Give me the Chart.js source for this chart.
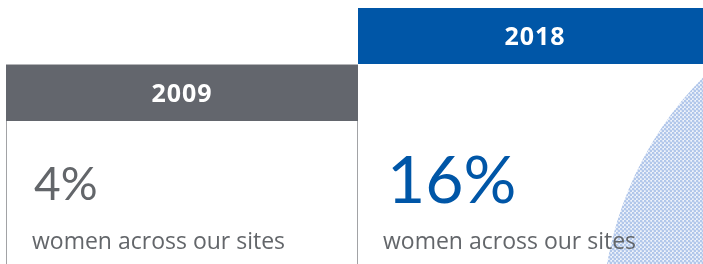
<!DOCTYPE html>
<html>
<head>
<meta charset="utf-8">
<script src="https://cdn.jsdelivr.net/npm/chart.js@4"></script>
<style>
  body { margin: 0; background: #fff; }
  canvas { display: block; }
</style>
</head>
<body>
<canvas id="myChart" width="703" height="264"></canvas>
<script>
const years = ['2009', '2018'];
const shares = [4, 16];
const caption = 'women across our sites';
const headColors = ['#63666d', '#0056a7'];
const valueColors = ['#63666a', '#0056a7'];

// halftone dots for the big circle on the right
let dotTile = document.createElement('canvas');
dotTile.width = 4;
dotTile.height = 4;
let tctx = dotTile.getContext('2d');
tctx.fillStyle = '#f0f4fb';
tctx.fillRect(0, 0, 4, 4);
tctx.fillStyle = '#b2c7ea';
for (const p of [[1, 1], [3, 3]]) {
  tctx.beginPath();
  tctx.arc(p[0], p[1], 1.4, 0, Math.PI * 2);
  tctx.fill();
}

const panels = {
  id: 'panels',
  beforeDatasetsDraw(chart) {
    const ctx = chart.ctx;
    const x = chart.scales.x;
    const H = chart.height;
    const half = (x.getPixelForValue(1) - x.getPixelForValue(0)) / 2;
    const split = Math.round(x.getPixelForValue(0) + half);
    const left = 6;

    ctx.save();
    // circle
    ctx.beginPath();
    ctx.rect(split, 64, chart.width - split, H - 64);
    ctx.clip();
    ctx.beginPath();
    ctx.arc(951, 323, 349, 0, Math.PI * 2);
    ctx.fillStyle = ctx.createPattern(dotTile, 'repeat');
    ctx.fill();
    ctx.restore();

    ctx.save();
    // headers
    const tops = [65, 8];
    const rights = [split, chart.width];
    const lefts = [left, split];
    years.forEach((yr, i) => {
      ctx.fillStyle = headColors[i];
      ctx.fillRect(lefts[i], tops[i], rights[i] - lefts[i], 56);
      ctx.fillStyle = '#fff';
      ctx.font = 'bold 25px "Open Sans"';
      ctx.letterSpacing = '1px';
      ctx.textAlign = 'center';
      ctx.textBaseline = 'middle';
      ctx.fillText(yr, i ? 535 : (lefts[i] + rights[i]) / 2, tops[i] + 30);
    });
    ctx.letterSpacing = '0px';
    ctx.fillStyle = '#b4b5b8';
    ctx.fillRect(left, 64, split - left, 1);

    // borders of the 2009 box
    ctx.fillStyle = '#a2a3a6';
    ctx.fillRect(left, 121, 1, H - 121);
    ctx.fillRect(split - 1, 121, 1, H - 121);

    // values + caption
    ctx.textAlign = 'left';
    ctx.textBaseline = 'alphabetic';
    const sizes = [46, 66];
    const vx = [left + 28, split + 29];
    shares.forEach((v, i) => {
      ctx.fillStyle = valueColors[i];
      ctx.font = sizes[i] + 'px Lato';
      ctx.fillText(v + '%', vx[i], i ? 203 : 200);
      ctx.fillStyle = '#63666a';
      ctx.font = '23px "Open Sans"';
      ctx.fillText(caption, i ? split + 25 : left + 26, 249);
    });
    ctx.restore();
  }
};

let canva = document.getElementById('myChart').getContext('2d');
window.grafica = new Chart(canva, {
  type: 'bar',
  data: {
    labels: years,
    datasets: [{
      data: shares,
      backgroundColor: 'rgba(0,0,0,0)'
    }]
  },
  options: {
    responsive: false,
    animation: false,
    layout: { padding: { left: 13, right: 0, top: 0, bottom: 0 } },
    plugins: { legend: { display: false }, tooltip: { enabled: false } },
    scales: {
      x: { display: false },
      y: { display: false, min: 0, max: 20 }
    }
  },
  plugins: [panels]
});
</script>
</body>
</html>
